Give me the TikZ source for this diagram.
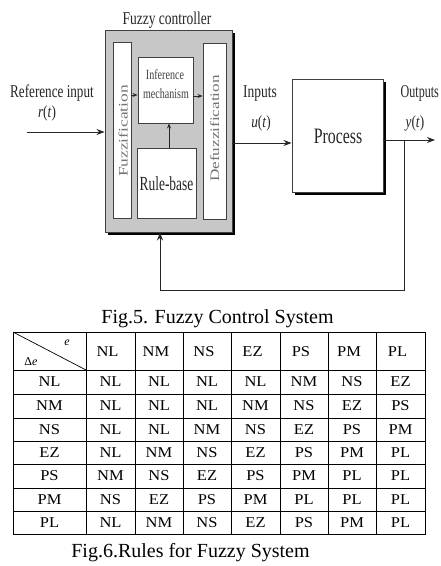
\documentclass[tikz,border=0pt]{standalone}
\usepackage{fontspec}
\setmainfont{Liberation Serif}
\usepackage{graphicx}
\usetikzlibrary{arrows.meta,calc}
\newcommand{\hs}[2]{\scalebox{#1}[1]{#2}}
\newcommand{\fsz}[1]{\fontsize{#1}{#1}\selectfont}
\begin{document}
\begin{tikzpicture}[x=1pt,y=-1pt,
  lbl/.style={inner sep=0pt, anchor=base},
  graybox/.style={draw=black!75, line width=0.9pt, fill=black!22, inner sep=0pt},
  blk/.style={draw=black!75, line width=0.9pt, fill=white, inner sep=0pt},
  conn/.style={draw=black!85, line width=0.9pt, -{Stealth[length=8pt,width=6pt]}},
  sconn/.style={draw=black!85, line width=0.8pt, -{Stealth[length=5pt,width=4pt]}},
  cellbox/.style={inner sep=0pt, anchor=center, font=\fsz{15}},
  tgrid/.style={line width=0.9pt, draw=black},
  figcap/.style={inner sep=0pt, anchor=base, font=\fsz{20}}]
\useasboundingbox (0,0) rectangle (440,566);
\fill[white] (0,0) rectangle (440,566);
% shadows
\fill[black] (108,33) rectangle (235,235);
\fill[black] (295,82) rectangle (386,195);
% blocks
\node[graybox, minimum width=127pt, minimum height=202pt] (fc) at (168.5,131) {};
\node[blk, minimum width=18pt, minimum height=176pt] (fuzz) at (122,130) {};
\node[blk, minimum width=23pt, minimum height=176pt] (defuzz) at (214.5,131) {};
\node[blk, minimum width=55pt, minimum height=66pt] (inf) at (165.5,90) {};
\node[blk, minimum width=59pt, minimum height=70pt] (rule) at (166.5,183) {};
\node[blk, minimum width=91pt, minimum height=113pt] (proc) at (337.5,135.5) {};
% block texts
\node[inner sep=0pt, rotate=90, text=black!55, font=\fsz{13}] (tfuzz) at (123,131) {\hs{1.34}{Fuzzification}};
\node[inner sep=0pt, rotate=90, text=black!55, font=\fsz{13}] (tdefuzz) at (214.5,128.5) {\hs{1.32}{Defuzzification}};
\node[lbl, text=black!75, font=\fsz{14}] (tinf1) at (165,79) {\hs{0.72}{Inference}};
\node[lbl, text=black!75, font=\fsz{14}] (tinf2) at (166,98) {\hs{0.72}{mechanism}};
\node[lbl, text=black!85, font=\fsz{20}] (trule) at (166.5,190) {\hs{0.67}{Rule-base}};
\node[lbl, text=black!85, font=\fsz{22}] (tproc) at (338,143) {\hs{0.72}{Process}};
% labels
\node[lbl, text=black!85, font=\fsz{18}] (ttitle) at (167,24) {\hs{0.75}{Fuzzy controller}};
\node[lbl, text=black!85, font=\fsz{18}] (tref) at (52,97) {\hs{0.73}{Reference input}};
\node[lbl, text=black!85, font=\fsz{17}] (tr) at (47,117) {\hs{0.78}{\textit{r}(\textit{t})}};
\node[lbl, text=black!85, font=\fsz{18}] (tinputs) at (260,97) {\hs{0.75}{Inputs}};
\node[lbl, text=black!85, font=\fsz{17}] (tu) at (261,127) {\hs{0.78}{\textit{u}(\textit{t})}};
\node[lbl, anchor=base west, text=black!85, font=\fsz{18}] (toutputs) at (400.5,97) {\hs{0.67}{Outputs}};
\node[lbl, text=black!85, font=\fsz{17}] (ty) at (415,127) {\hs{0.78}{\textit{y}(\textit{t})}};
% connectors
\coordinate (refin) at (27,132);
\draw[conn] (refin) -- (refin -| fc.west);
\coordinate (a1) at (0,95);
\coordinate (a2) at (0,96);
\draw[sconn] (fuzz.east |- a1) -- (inf.west |- a1);
\draw[sconn] (inf.east |- a2) -- (defuzz.west |- a2);
\coordinate (rx) at (169,0);
\draw[sconn] (rule.north -| rx) -- (inf.south -| rx);
\coordinate (uy) at (0,143);
\draw[conn] (fc.east |- uy) -- (proc.west |- uy);
\coordinate (tap) at (404,140);
\coordinate (outend) at (435,140);
\draw[conn] (proc.east |- tap) -- (outend);
\coordinate (fbx) at (160,290);
\draw[conn] (tap) |- (fbx) -- (fbx |- fc.south);
% caption 5
\node[figcap] (cap5) at (217.5,323) {Fig.5. Fuzzy Control System};
% table
\draw[tgrid] (13,332) rectangle (425,534);
\foreach \yy in {370,394,418,441,464,488,511} \draw[line width=0.8pt] (13,\yy) -- (425,\yy);
\foreach \xx in {86,135,183,231,280,328,376} \draw[line width=0.8pt] (\xx,332) -- (\xx,534);
\coordinate (dgA) at (13,332);
\coordinate (dgB) at (86,370);
\draw[line width=0.7pt] (dgA) -- (dgB);
\node[inner sep=0pt, font=\fsz{12}] (te) at (67,343) {\textit{e}};
\node[inner sep=0pt, font=\fsz{12}] (tde) at (31,362) {Δ\textit{e}};
% header
\foreach \lab [count=\i] in {NL,NM,NS,EZ,PS,PM,PL} {
  \pgfmathsetmacro{\cx}{{49.5,110.5,159,207,255.5,304,352,400.5}[\i]-3}
  \node[cellbox] (h\i) at (\cx,352) {\hs{1.1}{\lab}};
}
% body
\foreach \rowlab/\entries [count=\r] in {
  NL/{NL,NL,NL,NL,NM,NS,EZ},
  NM/{NL,NL,NL,NM,NS,EZ,PS},
  NS/{NL,NL,NM,NS,EZ,PS,PM},
  EZ/{NL,NM,NS,EZ,PS,PM,PL},
  PS/{NM,NS,EZ,PS,PM,PL,PL},
  PM/{NS,EZ,PS,PM,PL,PL,PL},
  PL/{NL,NM,NS,EZ,PS,PM,PL}} {
  \pgfmathsetmacro{\cy}{{382,406,429.5,452.5,476,499.5,522.5}[\r-1]}
  \node[cellbox] (r\r c0) at (49.5,\cy) {\hs{1.1}{\rowlab}};
  \foreach \ent [count=\c] in \entries {
    \pgfmathsetmacro{\cx}{{49.5,110.5,159,207,255.5,304,352,400.5}[\c]}
    \node[cellbox] (r\r c\c) at (\cx,\cy) {\hs{1.1}{\ent}};
  }
}
% caption 6
\node[figcap] (cap6) at (190.5,557) {Fig.6.Rules for Fuzzy System};
\end{tikzpicture}
\end{document}
